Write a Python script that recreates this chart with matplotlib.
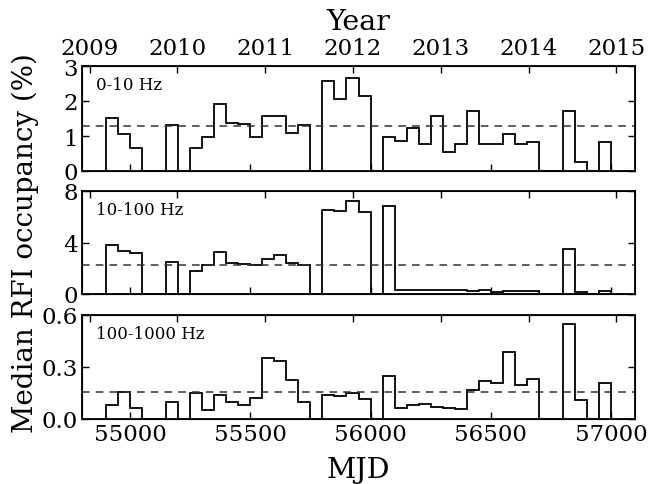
import numpy as np
import matplotlib
matplotlib.use('Agg')
import matplotlib.pyplot as plt

plt.rcParams['font.family'] = 'DejaVu Serif'

# 50-day bins in MJD
bin_start = 54900
bin_width = 50
n_bins = 42

occ_0_10 = [1.52, 1.06, 0.67, 0, 0, 1.32, 0, 0.65, 0.98, 1.92,
            1.36, 1.33, 0.98, 1.57, 1.57, 1.10, 1.31, 0, 2.57, 2.06,
            2.65, 2.14, 0, 0.96, 0.85, 1.22, 0.78, 1.58, 0.54, 0.78,
            1.72, 0.78, 0.76, 1.06, 0.78, 0.82, 0, 0, 1.71, 0.27,
            0, 0.83]
occ_10_100 = [3.84, 3.33, 3.15, 0, 0, 2.48, 0, 1.79, 2.29, 3.28,
              2.37, 2.32, 2.24, 2.69, 3.01, 2.37, 2.24, 0, 6.51, 6.43,
              7.23, 6.37, 0, 6.83, 0.32, 0.31, 0.31, 0.30, 0.30, 0.29,
              0.24, 0.32, 0.19, 0.21, 0.21, 0.24, 0, 0, 3.49, 0.13,
              0, 0.21]
occ_100_1000 = [0.081, 0.155, 0.064, 0, 0, 0.099, 0, 0.151, 0.050, 0.137,
                0.099, 0.081, 0.123, 0.352, 0.332, 0.225, 0.099, 0, 0.141, 0.133,
                0.149, 0.115, 0, 0.246, 0.064, 0.081, 0.085, 0.072, 0.064, 0.058,
                0.167, 0.219, 0.207, 0.387, 0.199, 0.232, 0, 0, 0.548, 0.111,
                0, 0.207]
medians = [1.30, 2.27, 0.155]
labels = ['0-10 Hz', '10-100 Hz', '100-1000 Hz']
ylims = [3, 8, 0.6]
yticks = [[0, 1, 2, 3], [0, 4, 8], [0.0, 0.3, 0.6]]
ytick_labels = [['0', '1', '2', '3'], ['0', '4', '8'], ['0.0', '0.3', '0.6']]

mjd_ticks = [55000, 55500, 56000, 56500, 57000]
years = ['2009', '2010', '2011', '2012', '2013', '2014', '2015']
year_mjd = [54832, 55197, 55562, 55927, 56293, 56658, 57023]

edges = bin_start + bin_width * np.arange(n_bins + 1)
series = [occ_0_10, occ_10_100, occ_100_1000]

W, H = 652, 485
fig = plt.figure(figsize=(W / 100, H / 100), dpi=100)

# panel pixel extents (top, bottom)
panels = [(67, 172), (192, 295), (316, 420)]
left_px, right_px = 82, 635

for i, (top, bot) in enumerate(panels):
    ax = fig.add_axes([left_px / W, 1 - bot / H, (right_px - left_px) / W, (bot - top) / H])
    ax.stairs(series[i], edges, color='k', lw=1.3, baseline=0)
    ax.axhline(medians[i], color='#333333', ls=(0, (5, 4)), lw=1.1)
    ax.set_xlim(54800, 57100)
    ax.set_ylim(0, ylims[i])
    ax.set_yticks(yticks[i])
    ax.set_yticklabels(ytick_labels[i])
    ax.set_xticks(mjd_ticks)
    ax.tick_params(direction='in', length=5, width=1, labelsize=16.5,
                   right=True, pad=3)
    if i < 2:
        ax.set_xticklabels([])
    ax.text(0.025, 0.9, labels[i], transform=ax.transAxes, fontsize=12,
            va='top', ha='left')
    for s in ax.spines.values():
        s.set_linewidth(1.3)

    tax = ax.twiny()
    tax.set_xlim(ax.get_xlim())
    tax.set_xticks(year_mjd)
    tax.tick_params(direction='in', length=5, width=1, labelsize=16.5, pad=5)
    if i == 0:
        tax.set_xticklabels(years)
        tax.set_xlabel('Year', fontsize=20.5, labelpad=6)
    else:
        tax.set_xticklabels([])
    if i == 2:
        ax.set_xlabel('MJD', fontsize=20.5, labelpad=8)

fig.text(25 / W, 0.5 * (1 - 67 / H + 1 - 420 / H), 'Median RFI occupancy (%)',
         rotation=90, va='center', ha='center', fontsize=20)

fig.savefig('out.png', dpi=100)
